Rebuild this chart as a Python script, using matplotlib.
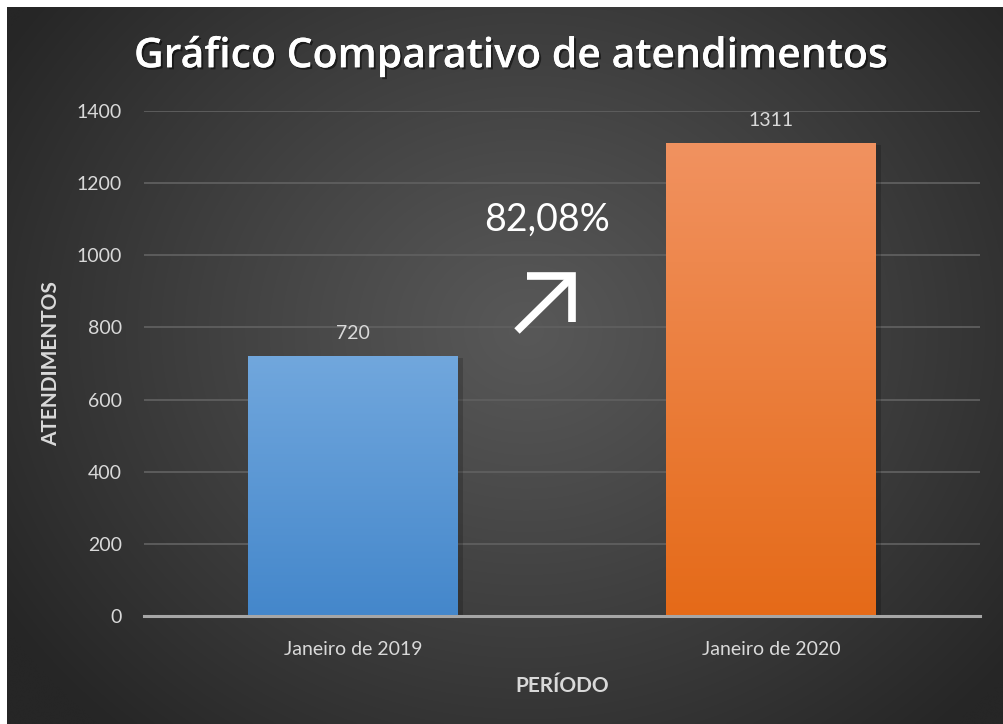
import numpy as np
import matplotlib
matplotlib.use("Agg")
import matplotlib.pyplot as plt
import matplotlib.patheffects as pe
from matplotlib.colors import LinearSegmentedColormap

categories = ["Janeiro de 2019", "Janeiro de 2020"]
values = [720, 1311]
growth_label = "82,08%"
yticks = [0, 200, 400, 600, 800, 1000, 1200, 1400]
title = "Gráfico Comparativo de atendimentos"
xlabel = "PERÍODO"
ylabel = "ATENDIMENTOS"

FONT = "Lato"
W, H = 1004, 724
fig = plt.figure(figsize=(W / 100, H / 100), dpi=100, facecolor="white")

# background with radial gradient
bg = fig.add_axes([7 / W, 0, 1 - 7 / W, 1 - 7 / H])
bg.set_axis_off()
ny, nx = 400, 560
yy, xx = np.mgrid[0:ny, 0:nx]
cx, cy = nx * 0.52, ny * 0.45
r = np.sqrt(((xx - cx) / (nx * 0.62)) ** 2 + ((yy - cy) / (ny * 0.75)) ** 2)
r = np.clip(r, 0, 1)
inner, outer = 88, 38
val = inner + (outer - inner) * r ** 1.1
img = np.dstack([val, val, val]) / 255.0
bg.imshow(img, aspect="auto", extent=[0, 1, 0, 1], interpolation="bicubic")
bg.set_xlim(0, 1)
bg.set_ylim(0, 1)

ax = fig.add_axes([144 / W, 108 / H, (980 - 144) / W, (616 - 111) / H])
ax.patch.set_alpha(0)
x = np.arange(len(categories))
bars = ax.bar(x, values, width=0.502, color="none", zorder=3)

grads = [("#71a7dd", "#4487cb"), ("#f19260", "#e56a18")]
for b, (top, bot) in zip(bars, grads):
    cmap = LinearSegmentedColormap.from_list("g", [bot, top])
    grad = np.linspace(0, 1, 256).reshape(-1, 1)
    x0, w, h = b.get_x(), b.get_width(), b.get_height()
    ax.bar(b.get_x() + w / 2 + 0.006, h, width=w + 0.012, color="black", alpha=0.18, zorder=2, bottom=-4)
    ax.imshow(grad, cmap=cmap, origin="lower", aspect="auto",
              extent=[x0, x0 + w, 0, h], zorder=3)

for xi, v in zip(x, values):
    ax.annotate(str(v), (xi, v), xytext=(0, 10), textcoords="offset points",
                ha="center", va="bottom", color="#d9d9d9", fontsize=14, family=FONT)

ax.set_xlim(-0.5, 1.5)
ax.set_ylim(0, 1400)
ax.set_yticks(yticks)
ax.set_xticks(x)
ax.set_xticklabels(categories)
ax.tick_params(axis="both", length=0, colors="#d9d9d9", labelsize=14)
ax.tick_params(axis="y", pad=16)
ax.tick_params(axis="x", pad=18)
for lab in ax.get_xticklabels() + ax.get_yticklabels():
    lab.set_family(FONT)
ax.grid(axis="y", color="#5f5f5f", linewidth=1.3, zorder=0)
ax.set_axisbelow(True)
for s in ["top", "right", "left"]:
    ax.spines[s].set_visible(False)
ax.spines["bottom"].set_color("#a6a6a6")
ax.spines["bottom"].set_linewidth(2.2)
ax.spines["bottom"].set_zorder(5)

ax.set_xlabel(xlabel, color="#d9d9d9", fontsize=15, fontweight="bold", family=FONT, labelpad=13)
ax.set_ylabel(ylabel, color="#d9d9d9", fontsize=15, fontweight="bold", family=FONT, labelpad=11)

fig.text(511 / W, 1 - 56 / H, title, ha="center", va="center", color="white",
         fontsize=29.5, fontweight="semibold", family="Open Sans",
         path_effects=[pe.withSimplePatchShadow(offset=(1.5, -1.5), shadow_rgbFace="black", alpha=0.5), pe.Normal()])

fig.text(547 / W, 1 - 220 / H, growth_label, ha="center", va="center", color="white",
         fontsize=27, family=FONT)

# arrow shape
ov = fig.add_axes([0, 0, 1, 1])
ov.set_axis_off()
ov.set_xlim(0, W)
ov.set_ylim(H, 0)
ov.plot([517, 572], [331, 277], color="white", lw=5.5, solid_capstyle="butt")
ov.plot([527, 572, 572], [276, 276, 322], color="white", lw=5.5, solid_capstyle="butt", solid_joinstyle="miter")

fig.savefig("out.png", dpi=100, facecolor="white")
